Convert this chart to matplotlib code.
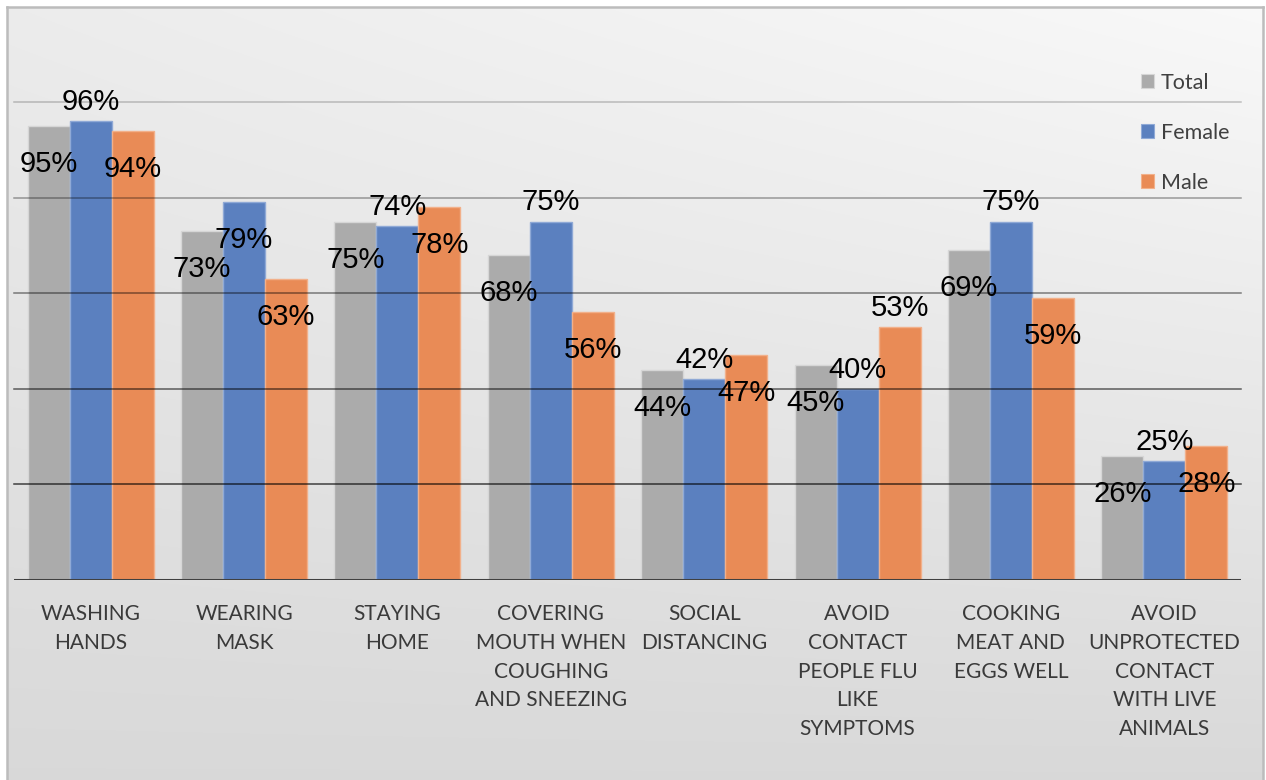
import numpy as np
import matplotlib
matplotlib.use("Agg")
import matplotlib.pyplot as plt
from matplotlib.patches import Patch

categories = ["WASHING\nHANDS", "WEARING\nMASK", "STAYING\nHOME",
              "COVERING\nMOUTH WHEN\nCOUGHING\nAND SNEEZING", "SOCIAL\nDISTANCING",
              "AVOID\nCONTACT\nPEOPLE FLU\nLIKE\nSYMPTOMS", "COOKING\nMEAT AND\nEGGS WELL",
              "AVOID\nUNPROTECTED\nCONTACT\nWITH LIVE\nANIMALS"]
series_names = ["Total", "Female", "Male"]
total = [95, 73, 75, 68, 44, 45, 69, 26]
female = [96, 79, 74, 75, 42, 40, 75, 25]
male = [94, 63, 78, 56, 47, 53, 59, 28]
y_ticks = [20, 40, 60, 80, 100]

# label placement (styling): 'in' = inside end, 'out' = above bar
total_place = ['in'] * 8
female_place = ['out', 'in', 'out', 'out', 'out', 'out', 'out', 'out']
male_place = ['in', 'in', 'in', 'in', 'in', 'out', 'in', 'in']

colors = ["#ababab", "#5b80bf", "#e98b56"]
edges = ["#d6d6d6", "#8fa9d6", "#f2b08a"]

W, H = 1266, 780
fig = plt.figure(figsize=(W / 100, H / 100), dpi=100)

# background gradient panel with border
bg = fig.add_axes([7 / W, 0, (1263 - 7) / W, 1 - 7 / H], zorder=-10)
ny, nx = 200, 400
xx = np.linspace(0, 1, nx)[None, :]
tt = np.linspace(0, 1, ny)[:, None]
v = 0.975 - 0.125 * tt - 0.05 * (1 - xx) * (1 - tt)
bg.imshow(np.dstack([v, v, v]), aspect='auto', extent=[0, 1, 0, 1], interpolation='bilinear')
bg.set_xticks([]); bg.set_yticks([])
for s in ['left', 'top', 'right']:
    bg.spines[s].set_color('#bcbcbc'); bg.spines[s].set_linewidth(1.8)
bg.spines['bottom'].set_visible(False)

left_px, right_px = 14, 1241
ax = fig.add_axes([left_px / W, 1 - 580 / H, (right_px - left_px) / W, (580 - 102) / H])
ax.patch.set_alpha(0)
x = np.arange(len(categories))
bw = 42 / ((right_px - left_px) / len(categories))
data = [total, female, male]
places = [total_place, female_place, male_place]
for i, (vals, name) in enumerate(zip(data, series_names)):
    pos = x + (i - 1) * bw
    ax.bar(pos, vals, width=bw, color=colors[i], edgecolor=edges[i], linewidth=1.0,
           label=name, zorder=2)
    for xp, val, pl in zip(pos, vals, places[i]):
        dy = -38 if pl == 'in' else 19
        ax.annotate(f"{val}%", (xp, val), xytext=(0, dy * 0.72), textcoords='offset points',
                    ha='center', va='center', fontsize=21, family='Liberation Sans',
                    color='black', zorder=5, annotation_clip=False)

ax.set_xlim(-0.5, len(categories) - 0.5)
ax.set_ylim(0, 100)
alphas = [0.72, 0.6, 0.48, 0.36, 0.22]
for yt, a in zip(y_ticks, alphas):
    ax.axhline(yt, color='black', alpha=a, lw=1.1, zorder=3, clip_on=False)
ax.axhline(0, color='#404040', lw=2.2, zorder=4)
for s in ax.spines.values():
    s.set_visible(False)
ax.set_yticks([])
ax.set_xticks(x)
ax.set_xticklabels(categories, fontsize=15, family='Lato', color='#3a3a3a', linespacing=1.56)
ax.tick_params(axis='x', length=0, pad=17)

handles = [Patch(facecolor=c, edgecolor=e, lw=0.8) for c, e in zip(colors, edges)]
fig.legend(handles, series_names, loc='upper left', bbox_to_anchor=(1132 / W, 1 - 64 / H),
           frameon=False, prop={'family': 'Lato', 'size': 15.5}, labelcolor='#404040',
           handlelength=0.6, handleheight=0.6, handletextpad=0.35, labelspacing=1.4,
           borderaxespad=0)

fig.savefig("out.png", dpi=100)
